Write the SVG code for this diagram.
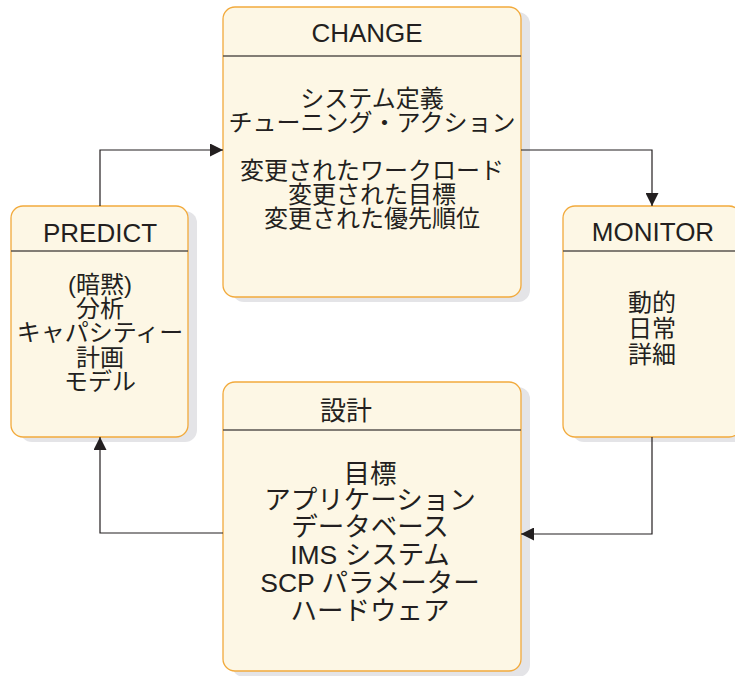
<svg xmlns="http://www.w3.org/2000/svg" width="735" height="676" viewBox="0 0 735 676">
<defs>
<style>
.sh{fill:#e4e4e7}
.bx{fill:#fdf7e5;stroke:#f2aa3c;stroke-width:1.3}
.hl{stroke:#58544f;stroke-width:1.5}
.t{font-family:"Liberation Sans","Noto Sans CJK JP",sans-serif;fill:#231f20;text-anchor:middle;dominant-baseline:central}
.ti{font-size:26px}
.b{font-size:24px}
.d{font-size:26.5px}
.c{fill:none;stroke:#231f20;stroke-width:1.2}
</style>
<marker id="ah" viewBox="0 0 10 10" refX="10" refY="5" markerWidth="13" markerHeight="13" markerUnits="userSpaceOnUse" orient="auto">
<path d="M0,0 L10,5 L0,10 z" fill="#231f20"/>
</marker>
</defs>
<rect width="735" height="676" fill="#ffffff"/>
<g id="change">
<rect class="sh" x="232" y="12" width="298" height="290" rx="12"/>
<rect class="bx" x="223" y="7" width="298" height="290" rx="12"/>
<line class="hl" x1="223" y1="56" x2="521" y2="56"/>
<text class="t ti" x="367" y="33">CHANGE</text>
<text class="t b" x="372" y="98">システム定義</text>
<text class="t b" x="372" y="122">チューニング・アクション</text>
<text class="t b" x="372" y="170">変更されたワークロード</text>
<text class="t b" x="372" y="194">変更された目標</text>
<text class="t b" x="372" y="218">変更された優先順位</text>
</g>
<g id="predict">
<rect class="sh" x="20" y="211" width="177" height="231" rx="12"/>
<rect class="bx" x="11" y="206" width="177" height="231" rx="12"/>
<line class="hl" x1="11" y1="251" x2="188" y2="251"/>
<text class="t ti" x="100" y="233">PREDICT</text>
<text class="t b" x="100" y="284">(暗黙)</text>
<text class="t b" x="100" y="308">分析</text>
<text class="t b" x="100" y="332">キャパシティー</text>
<text class="t b" x="100" y="357">計画</text>
<text class="t b" x="100" y="381">モデル</text>
</g>
<g id="monitor">
<rect class="sh" x="572" y="211" width="178" height="231" rx="12"/>
<rect class="bx" x="563" y="206" width="178" height="231" rx="12"/>
<line class="hl" x1="563" y1="251" x2="741" y2="251"/>
<text class="t ti" x="653" y="232">MONITOR</text>
<text class="t b" x="652" y="302">動的</text>
<text class="t b" x="652" y="328">日常</text>
<text class="t b" x="652" y="354">詳細</text>
</g>
<g id="design">
<rect class="sh" x="232" y="387" width="298" height="290" rx="12"/>
<rect class="bx" x="223" y="382" width="298" height="289" rx="12"/>
<line class="hl" x1="223" y1="430" x2="521" y2="430"/>
<text class="t ti" x="346" y="411">設計</text>
<text class="t d" x="370" y="474">目標</text>
<text class="t d" x="370" y="500">アプリケーション</text>
<text class="t d" x="370" y="527">データベース</text>
<text class="t d" x="370" y="555">IMS システム</text>
<text class="t d" x="370" y="583">SCP パラメーター</text>
<text class="t d" x="370" y="611">ハードウェア</text>
</g>
<g id="connectors">
<path class="c" d="M100,206 V150 H223" marker-end="url(#ah)"/>
<path class="c" d="M521,150 H652 V206" marker-end="url(#ah)"/>
<path class="c" d="M652,437 V534 H521" marker-end="url(#ah)"/>
<path class="c" d="M223,533 H100 V437" marker-end="url(#ah)"/>
</g>
</svg>
